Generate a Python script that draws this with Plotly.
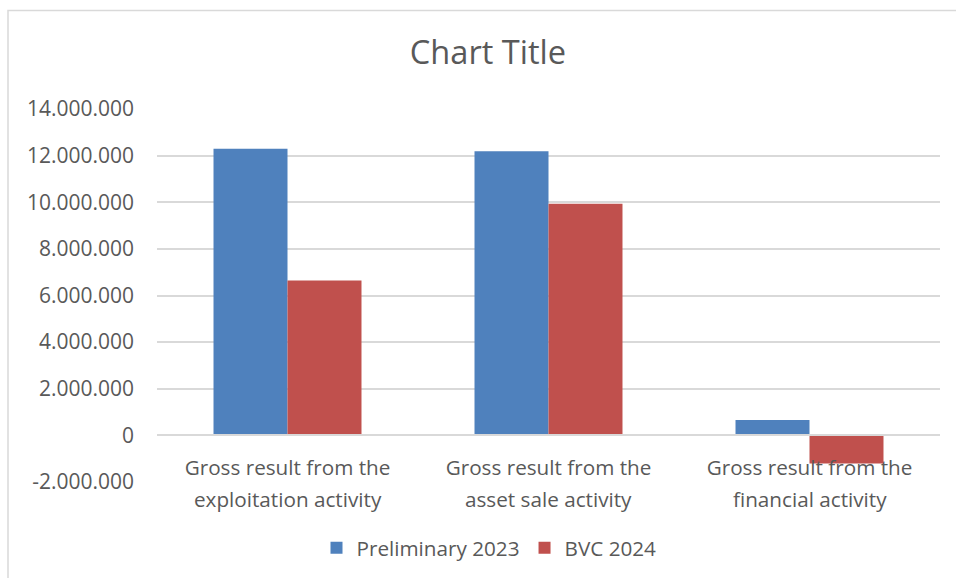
import plotly.graph_objects as go

categories = ["exploitation", "asset sale", "financial"]
category_line1 = ["Gross result from the", "Gross result from the", "Gross result from the"]
category_line2 = ["exploitation activity", "asset sale activity", "financial activity"]
preliminary_2023 = [12290000, 12190000, 660000]
bvc_2024 = [6640000, 9940000, -1210000]

y_tick_vals = [-2000000, 0, 2000000, 4000000, 6000000, 8000000, 10000000, 12000000, 14000000]
y_tick_text = ["-2.000.000", "0", "2.000.000", "4.000.000", "6.000.000",
               "8.000.000", "10.000.000", "12.000.000", "14.000.000"]

TEXT = "#595959"
GRID = "#D9D9D9"
FONT = "Open Sans"
FS = 20.7

fig = go.Figure()
fig.add_trace(go.Bar(name="Preliminary 2023", x=categories, y=preliminary_2023,
                     marker=dict(color="#4F81BD", line=dict(width=0))))
fig.add_trace(go.Bar(name="BVC 2024", x=categories, y=bvc_2024,
                     marker=dict(color="#C0504D", line=dict(width=0))))

annotations = [
    dict(x=c, y=y_tick_vals[0], xref="x", yref="y", text=t, showarrow=False,
         xanchor="center", yanchor="top", yshift=-1,
         font=dict(family=FONT, size=FS, color=TEXT))
    for c, t in zip(categories, category_line2)
]

fig.update_layout(
    width=956, height=578,
    margin=dict(l=157, r=16, t=109, b=95, pad=0),
    paper_bgcolor="white", plot_bgcolor="white",
    barmode="group", bargap=0.433, bargroupgap=0,
    font=dict(family=FONT, color=TEXT, size=FS),
    title=dict(text="Chart Title", x=(488 - 157) / 783, xref="paper", xanchor="center",
               y=1 - 53 / 578, yref="container", yanchor="middle",
               font=dict(family=FONT, size=32.6, color=TEXT)),
    showlegend=True,
    legend=dict(orientation="h", x=(489 - 157) / 783, xanchor="center",
                y=(483.3 - 548) / 374, yanchor="middle",
                font=dict(family=FONT, size=FS, color=TEXT),
                traceorder="normal", bgcolor="rgba(0,0,0,0)"),
    yaxis=dict(range=[-2000000, 14000000], tickvals=y_tick_vals, ticktext=y_tick_text,
               showgrid=True, gridcolor=GRID, gridwidth=1.5, zeroline=False,
               showline=False, ticks="", ticklabelstandoff=22,
               tickfont=dict(family=FONT, size=21, color=TEXT), fixedrange=True),
    xaxis=dict(anchor="free", position=0.125, showline=True, linecolor=GRID, linewidth=1.5,
               showgrid=False, ticks="", ticklabelstandoff=14,
               tickvals=categories, ticktext=category_line1,
               tickfont=dict(family=FONT, size=FS, color=TEXT), fixedrange=True),
    annotations=annotations,
    shapes=[dict(type="rect", xref="paper", yref="paper",
                 x0=(8 - 157) / 783, x1=(990 - 157) / 783,
                 y0=(483.3 - 600) / 374, y1=(483.3 - 10.5) / 374,
                 line=dict(color=GRID, width=1.5), fillcolor="rgba(0,0,0,0)", layer="below")],
)

fig.write_html(
    "out.html",
    config={"displayModeBar": False},
    post_script="document.body.style.margin='0px';document.body.style.overflow='hidden';",
)
